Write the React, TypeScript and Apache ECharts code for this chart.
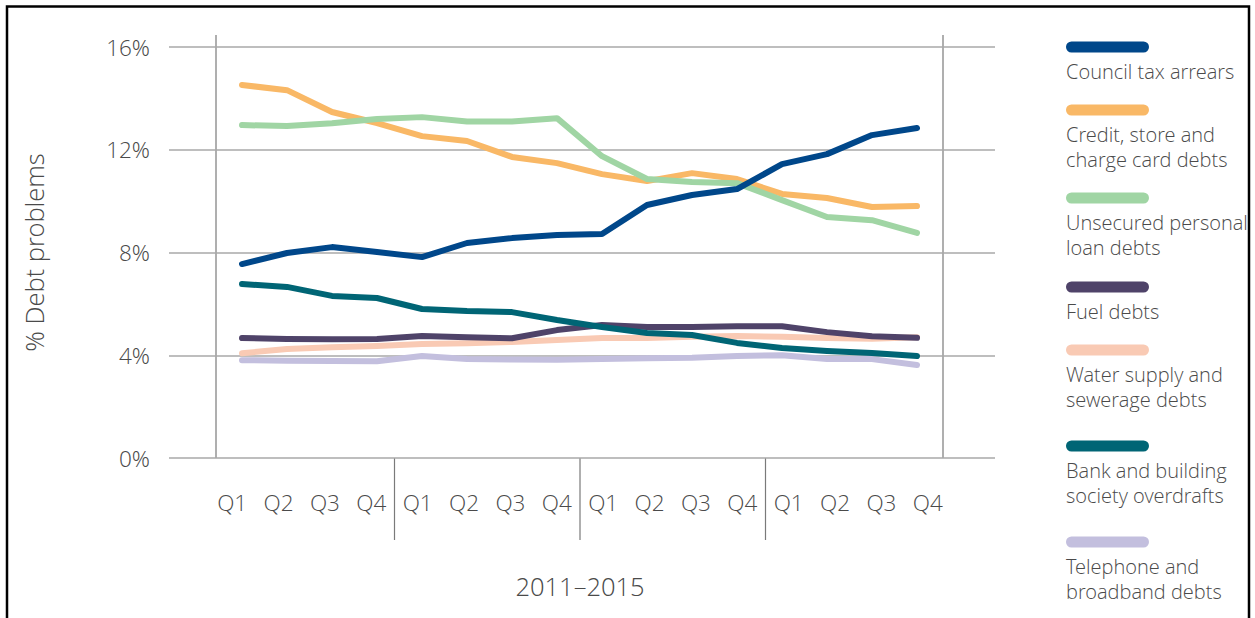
import React, { useEffect, useRef } from "react";
import * as echarts from "echarts";

const quarterLabels = ["Q1", "Q2", "Q3", "Q4", "Q1", "Q2", "Q3", "Q4", "Q1", "Q2", "Q3", "Q4", "Q1", "Q2", "Q3", "Q4"];
const periodLabel = "2011–2015";
const yTicks = [0, 4, 8, 12, 16];

const seriesNames = [
  "Council tax arrears",
  "Credit, store and\ncharge card debts",
  "Unsecured personal\nloan debts",
  "Fuel debts",
  "Water supply and\nsewerage debts",
  "Bank and building\nsociety overdrafts",
  "Telephone and\nbroadband debts",
];
const seriesColors = ["#00478a", "#f9b866", "#a0d5a4", "#4f4369", "#f9cab4", "#006575", "#c3bfde"];

const councilTax = [7.55, 7.98, 8.21, 8.02, 7.82, 8.37, 8.56, 8.68, 8.72, 9.85, 10.24, 10.47, 11.44, 11.83, 12.57, 12.85];
const creditCard = [14.52, 14.32, 13.47, 13.04, 12.53, 12.34, 11.72, 11.48, 11.05, 10.78, 11.09, 10.86, 10.28, 10.12, 9.77, 9.81];
const unsecuredLoan = [12.96, 12.92, 13.03, 13.2, 13.27, 13.1, 13.1, 13.23, 11.75, 10.86, 10.74, 10.7, 10.04, 9.38, 9.26, 8.76];
const fuel = [4.67, 4.63, 4.62, 4.63, 4.75, 4.7, 4.66, 4.98, 5.18, 5.1, 5.1, 5.13, 5.13, 4.9, 4.74, 4.68];
const water = [4.08, 4.24, 4.31, 4.36, 4.44, 4.47, 4.52, 4.59, 4.67, 4.67, 4.72, 4.75, 4.72, 4.67, 4.64, 4.7];
const bankOverdraft = [6.77, 6.66, 6.31, 6.23, 5.8, 5.72, 5.68, 5.37, 5.1, 4.87, 4.79, 4.48, 4.28, 4.17, 4.09, 3.97];
const telephone = [3.81, 3.79, 3.78, 3.77, 3.97, 3.85, 3.83, 3.82, 3.85, 3.88, 3.9, 3.97, 4.0, 3.85, 3.85, 3.62];

const seriesData = [councilTax, creditCard, unsecuredLoan, fuel, water, bankOverdraft, telephone];
// draw order (bottom to top)
const drawOrder = [6, 4, 3, 5, 1, 2, 0];
const legendY = [47, 110, 198, 287, 350, 446, 542];

const FONT = "'Open Sans Light', 'Open Sans', 'Noto Sans', sans-serif";
const TEXT = "#4a4a4a";

// label band geometry (for year separators)
const LABEL_LEFT = 209;
const LABEL_RIGHT_EDGE = 951;

export default function App() {
  const ref = useRef<HTMLDivElement>(null);
  useEffect(() => {
    if (!ref.current) return;
    const chart = echarts.init(ref.current, undefined, { renderer: "svg" });

    const legendGraphics: any[] = [];
    seriesNames.forEach((name, i) => {
      legendGraphics.push({
        type: "rect",
        shape: { x: 1066, y: legendY[i] - 5.5, width: 83, height: 11, r: 5.5 },
        style: { fill: seriesColors[i] },
      });
      legendGraphics.push({
        type: "text",
        x: 1066,
        y: legendY[i] + 11.5,
        style: {
          text: name,
          fill: TEXT,
          font: `300 20px ${FONT}`,
          lineHeight: 25,
          verticalAlign: "top",
          align: "left",
        },
      });
    });

    const band = (LABEL_RIGHT_EDGE - LABEL_LEFT) / quarterLabels.length;
    const separators = [4, 8, 12].map((k) => ({
      type: "line",
      shape: { x1: LABEL_LEFT + band * k, y1: 458, x2: LABEL_LEFT + band * k, y2: 540 },
      style: { stroke: "#7a7a7a", lineWidth: 1.2 },
    }));

    const tickFont = { fontSize: 22.5, fontWeight: 300, color: TEXT, fontFamily: FONT };
    const nameFont = { fontSize: 25.5, fontWeight: 300, color: TEXT, fontFamily: FONT };

    const option: any = {
      animation: false,
      backgroundColor: "#ffffff",
      textStyle: { fontFamily: FONT },
      grid: [
        { left: 242, right: 338, top: 47, bottom: 160 },
        { left: 169, right: 260, top: 47, bottom: 160 },
        { left: LABEL_LEFT, right: 1255 - LABEL_RIGHT_EDGE, top: 47, bottom: 160 },
      ],
      xAxis: [
        { type: "category", gridIndex: 0, data: quarterLabels, boundaryGap: false, show: false },
        { type: "value", gridIndex: 1, show: false, min: 0, max: 1 },
        {
          type: "category",
          gridIndex: 2,
          data: quarterLabels,
          boundaryGap: true,
          axisLine: { show: false },
          axisTick: { show: false },
          axisLabel: { interval: 0, margin: 33, ...tickFont },
          name: periodLabel,
          nameLocation: "middle",
          nameGap: 115,
          nameTextStyle: nameFont,
        },
      ],
      yAxis: [
        { type: "value", gridIndex: 0, min: 0, max: 16, interval: 4, show: false },
        {
          type: "value",
          gridIndex: 1,
          min: yTicks[0],
          max: yTicks[yTicks.length - 1],
          interval: 4,
          axisLine: { show: false },
          axisTick: { show: false },
          axisLabel: { formatter: "{value}%", margin: 19, ...tickFont },
          splitLine: { show: true, lineStyle: { color: "#a8a8a8", width: 1.5 } },
          name: "% Debt problems",
          nameLocation: "middle",
          nameRotate: 90,
          nameGap: 122,
          nameTextStyle: nameFont,
        },
        { type: "value", gridIndex: 2, min: 0, max: 16, show: false },
      ],
      graphic: [
        {
          type: "rect",
          shape: { x: 7, y: 6.5, width: 1242, height: 700 },
          style: { fill: "none", stroke: "#000", lineWidth: 2.5 },
          silent: true,
        },
        { type: "line", shape: { x1: 216, y1: 35, x2: 216, y2: 458 }, style: { stroke: "#7a7a7a", lineWidth: 1.2 } },
        { type: "line", shape: { x1: 943, y1: 35, x2: 943, y2: 458 }, style: { stroke: "#7a7a7a", lineWidth: 1.2 } },
        ...separators,
        ...legendGraphics,
      ],
      series: drawOrder.map((idx) => ({
        type: "line",
        name: seriesNames[idx],
        xAxisIndex: 0,
        yAxisIndex: 0,
        data: seriesData[idx],
        symbol: "none",
        smooth: false,
        lineStyle: { color: seriesColors[idx], width: 6, cap: "round", join: "round" },
        itemStyle: { color: seriesColors[idx] },
      })),
    };
    chart.setOption(option);
    return () => chart.dispose();
  }, []);
  return <div ref={ref} style={{ position: "fixed", left: 0, top: 0, width: 1255, height: 618 }} />;
}
